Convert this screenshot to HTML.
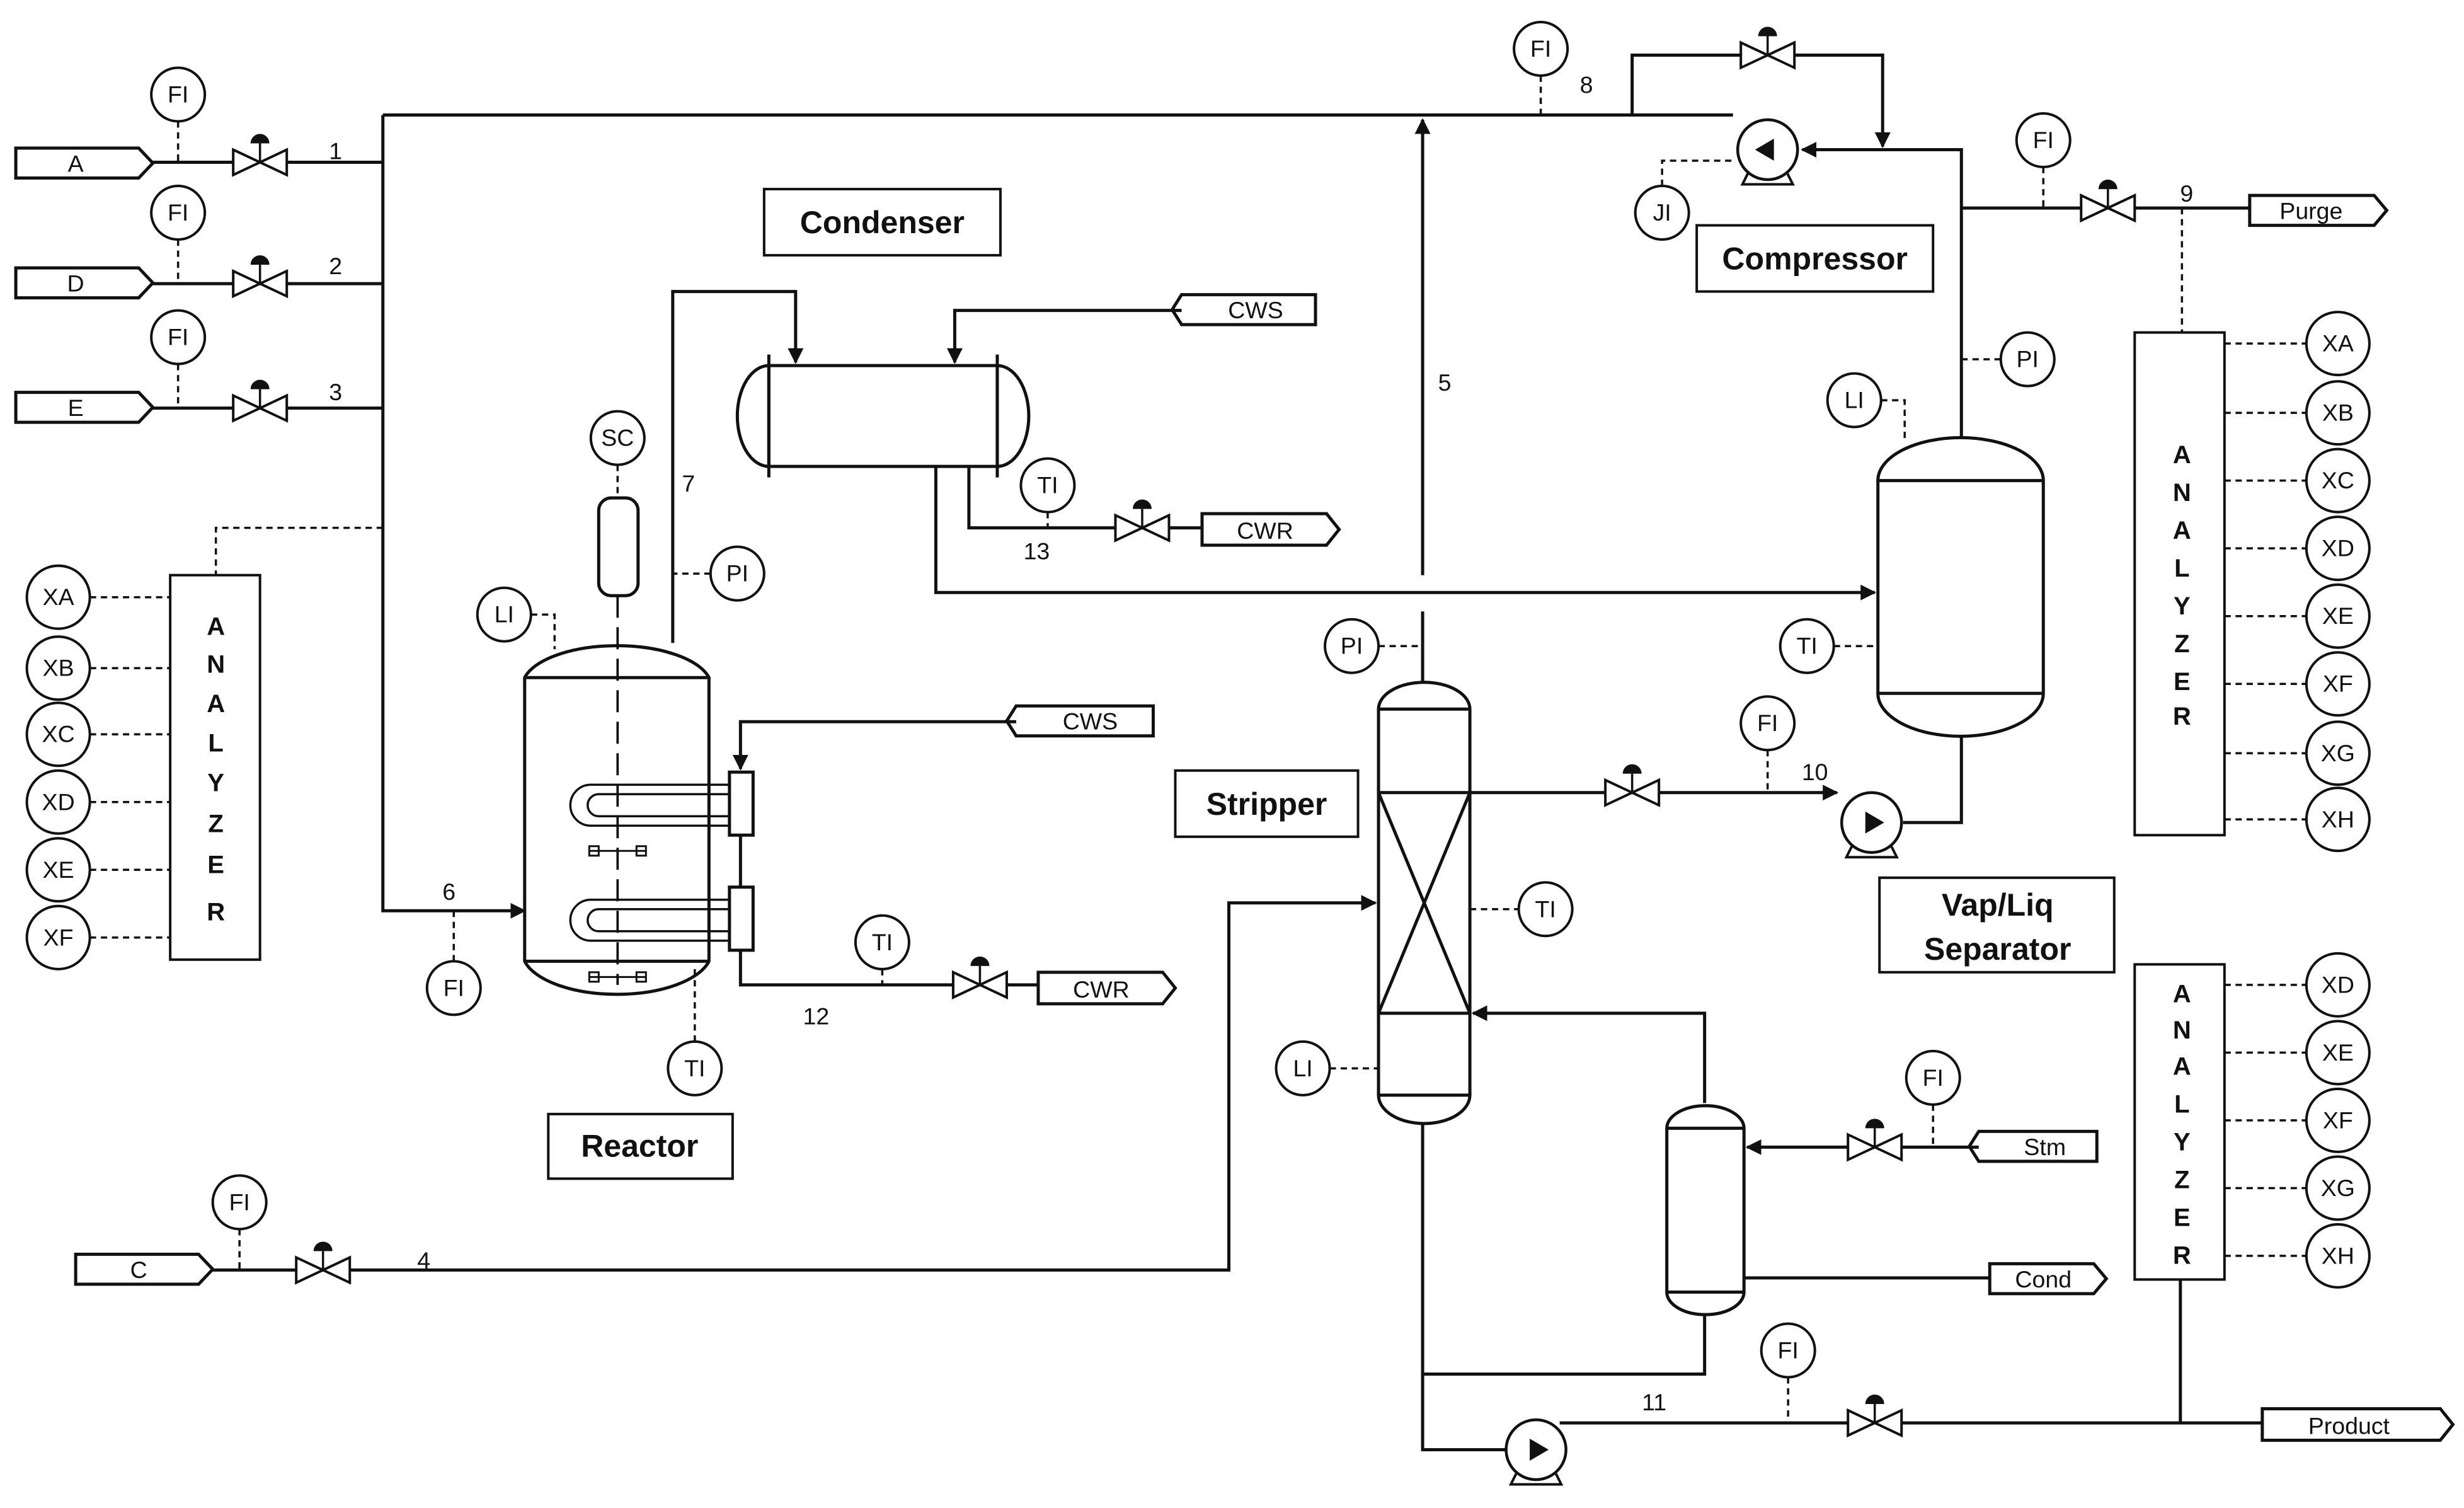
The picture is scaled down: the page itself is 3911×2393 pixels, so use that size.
<!DOCTYPE html>
<html><head><meta charset="utf-8"><style>
html,body{margin:0;padding:0;background:#fff;}
svg{display:block;}
text{font-family:"Liberation Sans",sans-serif;fill:#111;}
</style></head><body>
<svg width="3911" height="2393" viewBox="0 0 1564 957" xmlns="http://www.w3.org/2000/svg">
<defs>
<marker id="ar" markerWidth="10" markerHeight="10" refX="9" refY="5" orient="auto" markerUnits="userSpaceOnUse"><path d="M0,0 L10,5 L0,10 z" fill="#111"/></marker>
<g id="valve"><path d="M-17,-8 L17,8 L17,-8 L-17,8 z" fill="#fff" stroke="#111" stroke-width="1.6"/><line x1="0" y1="0" x2="0" y2="-12" stroke="#111" stroke-width="1.4"/><path d="M-6,-12 A6,6 0 0 1 6,-12 z" fill="#111"/></g>
<g id="pump"><path d="M-12,14 L-16,22 L16,22 L12,14" fill="none" stroke="#111" stroke-width="1.6"/><circle r="19" fill="#fff" stroke="#111" stroke-width="1.8"/></g>
</defs>
<g fill="none" stroke="#111" stroke-width="2">
<!-- feeds -->
<path d="M10,94 H88 L97,103.5 L88,113 H10 z"/>
<path d="M10,170 H88 L97,179.5 L88,189 H10 z"/>
<path d="M10,249 H88 L97,258.5 L88,268 H10 z"/>
<path d="M48,796 H126 L135,805.5 L126,815 H48 z"/>
<path d="M97,103 H243 M97,180 H243 M97,259 H243"/>
<path d="M243,73 V578 H333" marker-end="url(#ar)"/>
<path d="M243,73 H1100"/>
<path d="M135,806 H780 V573 H873" marker-end="url(#ar)"/>
<!-- line 5 -->
<path d="M903,365 V76" marker-end="url(#ar)"/>
<path d="M903,388 V433"/>
<!-- compressor bypass -->
<path d="M1036,73 V35 H1195 V93" marker-end="url(#ar)"/>
<path d="M1245,278 V95 H1144" marker-end="url(#ar)"/>
<path d="M1245,132 H1428"/>
<path d="M1428,124 H1507 L1515,133.5 L1507,143 H1428 z"/>
<!-- condenser -->
<path d="M427,408 V185 H505 V230" marker-end="url(#ar)"/>
<path d="M750,197 H606 V230" marker-end="url(#ar)"/>
<path d="M750,187 H835 V206 H750 L744,196.5 z"/>
<path d="M488,232 H633 V296 H488 z"/>
<path d="M488,232 A20,32 0 0 0 488,296"/>
<path d="M633,232 A20,32 0 0 1 633,296"/>
<path d="M488,225 V303 M633,225 V303"/>
<path d="M615,296 V335 H763"/>
<path d="M763,326 H842 L850,336 L842,346 H763 z"/>
<path d="M594,296 V376 H1190" marker-end="url(#ar)"/>
<!-- reactor -->
<rect x="380" y="316" width="25" height="62" rx="8"/>
<path d="M333,430 A60,26 0 0 1 450,430 V610 A60,27 0 0 1 333,610 z"/>
<path d="M333,430 H450 M333,610 H450"/>
<path d="M392,378 V625" stroke-dasharray="14,6" stroke-width="1.5"/>
<path d="M463,490 V530 H478 V490 z M463,563 V603 H478 V563 z"/>
<path d="M463,498 H375 A13,13 0 0 0 375,524 H463 M463,504 H380 A7,7 0 0 0 380,518 H463" stroke-width="1.4"/>
<path d="M463,571 H375 A13,13 0 0 0 375,597 H463 M463,577 H380 A7,7 0 0 0 380,591 H463" stroke-width="1.4"/>
<path d="M645,458 H470 V488" marker-end="url(#ar)"/>
<path d="M645,448 H732 V467 H645 L639,457.5 z"/>
<path d="M470,530 V563 M470,603 V625 H659"/>
<path d="M659,617 H738 L746,627 L738,637 H659 z"/>
<path d="M374,540 H410 M374,620 H410" stroke-width="1.2"/>
<rect x="374" y="537" width="6" height="6" stroke-width="1.2"/><rect x="404" y="537" width="6" height="6" stroke-width="1.2"/>
<rect x="374" y="617" width="6" height="6" stroke-width="1.2"/><rect x="404" y="617" width="6" height="6" stroke-width="1.2"/>
<!-- stripper -->
<path d="M875,450 A29,17 0 0 1 933,450 V695 A29,18 0 0 1 875,695 z"/>
<path d="M875,450 H933 M875,695 H933 M875,503 H933 M875,643 H933 M875,503 L933,643 M933,503 L875,643"/>
<path d="M933,503 H1166" marker-end="url(#ar)"/>
<path d="M1245,467 V522 H1208"/>
<path d="M903,713 V872 H1082 V835"/>
<path d="M1082,700 V643 H935" marker-end="url(#ar)"/>
<path d="M1058,716 A24,14 0 0 1 1107,716 V820 A24,14 0 0 1 1058,820 z"/>
<path d="M1058,716 H1107 M1058,820 H1107"/>
<path d="M1256,728 H1109" marker-end="url(#ar)"/>
<path d="M1256,718 H1331 V737 H1256 L1250,727.5 z"/>
<path d="M1107,811 H1263"/>
<path d="M1263,802 H1329 L1337,811.5 L1329,821 H1263 z"/>
<path d="M903,872 V920 H956"/>
<path d="M990,903 H1436"/>
<path d="M1436,894 H1549 L1557,904 L1549,914 H1436 z"/>
<path d="M1384,812 V903"/>
<!-- separator -->
<path d="M1192,305 A52,27 0 0 1 1297,305 V440 A52,27 0 0 1 1192,440 z"/>
<path d="M1192,305 H1297 M1192,440 H1297"/>
</g>
<!-- pumps -->
<use href="#pump" x="1122" y="95"/><use href="#pump" x="1188" y="522"/><use href="#pump" x="975" y="920"/>
<g fill="#111"><path d="M1114,95 L1126,88 L1126,102 z"/><path d="M1196,522 L1184,515 L1184,529 z"/><path d="M983,920 L971,913 L971,927 z"/></g>
<!-- valves -->
<use href="#valve" x="165" y="103"/><use href="#valve" x="165" y="180"/><use href="#valve" x="165" y="259"/>
<use href="#valve" x="205" y="806"/><use href="#valve" x="1122" y="35"/><use href="#valve" x="1338" y="132"/>
<use href="#valve" x="725" y="335"/><use href="#valve" x="622" y="625"/><use href="#valve" x="1036" y="503"/>
<use href="#valve" x="1190" y="728"/><use href="#valve" x="1190" y="903"/>
<!-- dashed signal lines -->
<g fill="none" stroke="#111" stroke-width="1.4" stroke-dasharray="4,3">
<path d="M113,77 V103 M113,152 V180 M113,231 V259 M152,780 V806 M978,48 V73 M1297,106 V132 M288,578 V610"/>
<path d="M243,335 H137 V365 M1385,132 V211"/>
<path d="M57,379 H108 M57,424 H108 M57,466 H108 M57,509 H108 M57,552 H108 M57,595 H108"/>
<path d="M1412,218 H1464 M1412,262 H1464 M1412,305 H1464 M1412,348 H1464 M1412,391 H1464 M1412,434 H1464 M1412,478 H1464 M1412,520 H1464"/>
<path d="M1412,625 H1464 M1412,668 H1464 M1412,711 H1464 M1412,754 H1464 M1412,797 H1464"/>
<path d="M1055,118 V102 H1100 M392,295 V316 M337,390 H352 V412 M451,364 H427 M441,661 V612 M665,325 V335 M560,615 V625"/>
<path d="M875,410 H903 M933,577 H964 M844,678 H875 M1122,476 V503 M1227,701 V728 M1135,874 V903"/>
<path d="M1194,254 H1209 V280 M1270,228 H1245 M1164,410 H1192"/>
</g>
<!-- instrument circles -->
<g fill="#fff" stroke="#111" stroke-width="1.6">
<circle cx="113" cy="60" r="17"/><circle cx="113" cy="135" r="17"/><circle cx="113" cy="214" r="17"/>
<circle cx="152" cy="763" r="17"/><circle cx="288" cy="627" r="17"/><circle cx="978" cy="31" r="17"/>
<circle cx="1297" cy="89" r="17"/><circle cx="1055" cy="135" r="17"/><circle cx="392" cy="278" r="17"/>
<circle cx="320" cy="390" r="17"/><circle cx="468" cy="364" r="17"/><circle cx="441" cy="678" r="17"/>
<circle cx="665" cy="308" r="17"/><circle cx="560" cy="598" r="17"/><circle cx="858" cy="410" r="17"/>
<circle cx="981" cy="577" r="17"/><circle cx="827" cy="678" r="17"/><circle cx="1122" cy="459" r="17"/>
<circle cx="1227" cy="684" r="17"/><circle cx="1135" cy="857" r="17"/><circle cx="1177" cy="254" r="17"/>
<circle cx="1287" cy="228" r="17"/><circle cx="1147" cy="410" r="17"/>
<circle cx="37" cy="379" r="20"/><circle cx="37" cy="424" r="20"/><circle cx="37" cy="466" r="20"/><circle cx="37" cy="509" r="20"/><circle cx="37" cy="552" r="20"/><circle cx="37" cy="595" r="20"/>
<circle cx="1484" cy="218" r="20"/><circle cx="1484" cy="262" r="20"/><circle cx="1484" cy="305" r="20"/><circle cx="1484" cy="348" r="20"/><circle cx="1484" cy="391" r="20"/><circle cx="1484" cy="434" r="20"/><circle cx="1484" cy="478" r="20"/><circle cx="1484" cy="520" r="20"/>
<circle cx="1484" cy="625" r="20"/><circle cx="1484" cy="668" r="20"/><circle cx="1484" cy="711" r="20"/><circle cx="1484" cy="754" r="20"/><circle cx="1484" cy="797" r="20"/>
</g>
<!-- boxes -->
<g fill="#fff" stroke="#111" stroke-width="1.6">
<rect x="108" y="365" width="57" height="244"/><rect x="1355" y="211" width="57" height="319"/><rect x="1355" y="612" width="57" height="200"/>
<rect x="485" y="120" width="150" height="42"/><rect x="1077" y="143" width="150" height="42"/>
<rect x="746" y="489" width="116" height="42"/><rect x="348" y="707" width="117" height="41"/><rect x="1193" y="557" width="149" height="60"/>
</g>
<g font-size="15" text-anchor="middle">
<text x="113" y="65">FI</text><text x="113" y="140">FI</text><text x="113" y="219">FI</text><text x="152" y="768">FI</text>
<text x="288" y="632">FI</text><text x="978" y="36">FI</text><text x="1297" y="94">FI</text><text x="1055" y="140">JI</text>
<text x="392" y="283">SC</text><text x="320" y="395">LI</text><text x="468" y="369">PI</text><text x="441" y="683">TI</text>
<text x="665" y="313">TI</text><text x="560" y="603">TI</text><text x="858" y="415">PI</text><text x="981" y="582">TI</text>
<text x="827" y="683">LI</text><text x="1122" y="464">FI</text><text x="1227" y="689">FI</text><text x="1135" y="862">FI</text>
<text x="1177" y="259">LI</text><text x="1287" y="233">PI</text><text x="1147" y="415">TI</text>
<text x="37" y="384">XA</text><text x="37" y="429">XB</text><text x="37" y="471">XC</text><text x="37" y="514">XD</text><text x="37" y="557">XE</text><text x="37" y="600">XF</text>
<text x="1484" y="223">XA</text><text x="1484" y="267">XB</text><text x="1484" y="310">XC</text><text x="1484" y="353">XD</text><text x="1484" y="396">XE</text><text x="1484" y="439">XF</text><text x="1484" y="483">XG</text><text x="1484" y="525">XH</text>
<text x="1484" y="630">XD</text><text x="1484" y="673">XE</text><text x="1484" y="716">XF</text><text x="1484" y="759">XG</text><text x="1484" y="802">XH</text>
<text x="48" y="109">A</text><text x="48" y="185">D</text><text x="48" y="264">E</text><text x="88" y="811">C</text>
<text x="1467" y="139">Purge</text><text x="797" y="202">CWS</text><text x="803" y="342">CWR</text><text x="692" y="463">CWS</text>
<text x="699" y="633">CWR</text><text x="1298" y="733">Stm</text><text x="1297" y="817">Cond</text><text x="1491" y="910">Product</text>
<text x="213" y="101">1</text><text x="213" y="174">2</text><text x="213" y="254">3</text><text x="269" y="805">4</text>
<text x="917" y="248">5</text><text x="285" y="571">6</text><text x="437" y="312">7</text><text x="1007" y="59">8</text>
<text x="1388" y="128">9</text><text x="1152" y="495">10</text><text x="1050" y="895">11</text><text x="518" y="650">12</text><text x="658" y="355">13</text>
</g>
<g font-size="16" font-weight="bold" text-anchor="middle">
<text x="137" y="403">A</text><text x="137" y="427">N</text><text x="137" y="452">A</text><text x="137" y="477">L</text><text x="137" y="502">Y</text><text x="137" y="528">Z</text><text x="137" y="554">E</text><text x="137" y="584">R</text>
<text x="1385" y="294">A</text><text x="1385" y="318">N</text><text x="1385" y="342">A</text><text x="1385" y="366">L</text><text x="1385" y="390">Y</text><text x="1385" y="414">Z</text><text x="1385" y="438">E</text><text x="1385" y="460">R</text>
<text x="1385" y="636">A</text><text x="1385" y="659">N</text><text x="1385" y="682">A</text><text x="1385" y="706">L</text><text x="1385" y="730">Y</text><text x="1385" y="754">Z</text><text x="1385" y="778">E</text><text x="1385" y="802">R</text>
</g>
<g font-size="20" font-weight="bold" text-anchor="middle">
<text x="560" y="148">Condenser</text><text x="1152" y="171">Compressor</text><text x="804" y="517">Stripper</text>
<text x="406" y="734">Reactor</text><text x="1268" y="581">Vap/Liq</text><text x="1268" y="609">Separator</text>
</g>
</svg>
</body></html>
